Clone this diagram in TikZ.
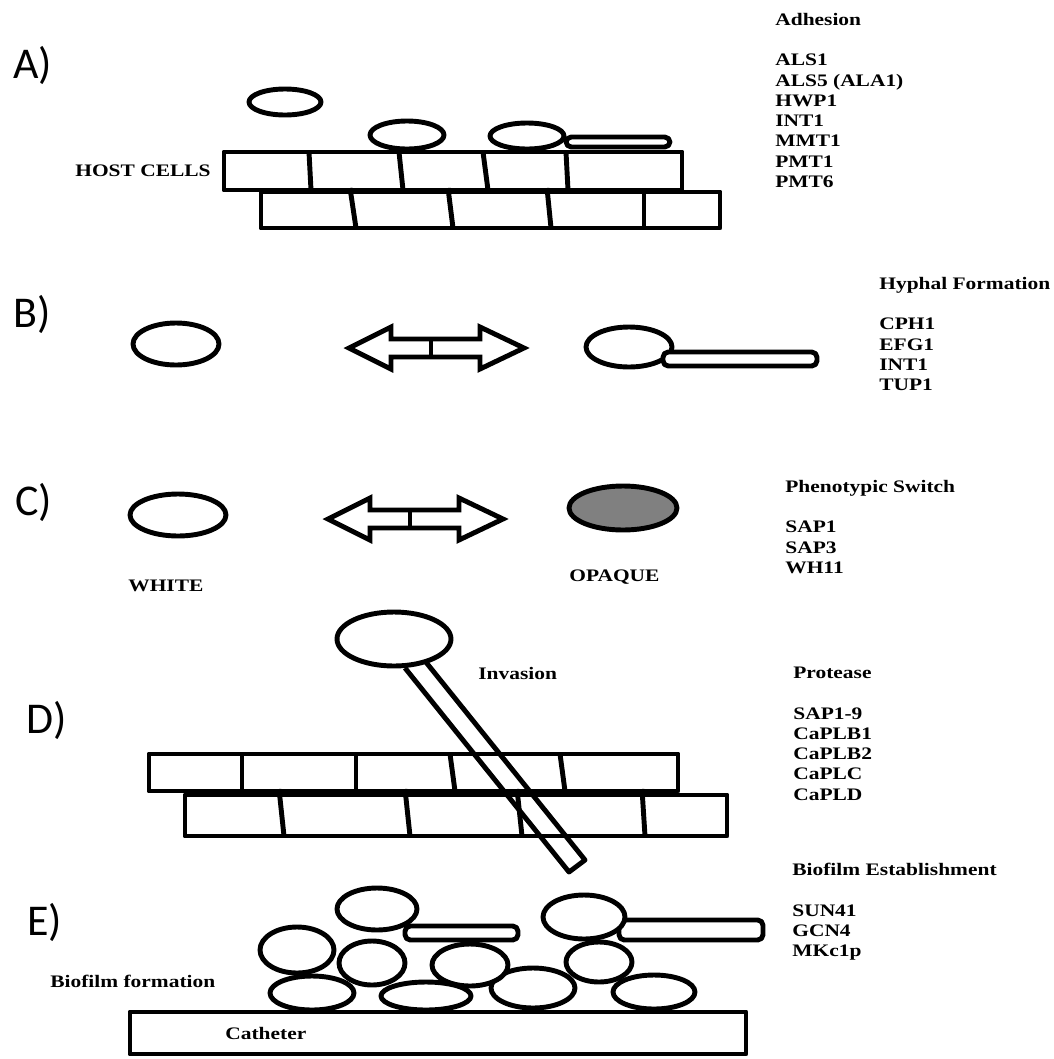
\documentclass[tikz,border=0pt]{standalone}
\usepackage{fontspec}
\newfontfamily\genefont[FakeStretch=1.22]{Liberation Serif}
\newfontfamily\panelfont{Carlito}
\definecolor{opaquegrey}{RGB}{128,128,128}
\tikzset{
  outline/.style={draw, line width=2.8pt, line join=round},
  cell/.style={outline, fill=white},
  panel/.style={font=\panelfont\fontsize{25}{30}\selectfont, inner sep=0pt, anchor=base west},
  tag/.style={font=\genefont\bfseries\fontsize{10}{11.5}\selectfont, inner sep=0pt, anchor=west},
  genes/.style={tag, align=left, anchor=north west},
}

\begin{document}
\begin{tikzpicture}[x=0.2mm, y=-0.2mm]
\useasboundingbox (0,0) rectangle (1054,1059);

% Panel letters
\node[panel] (labA) at (13,78) {A)};
\node[panel] (labB) at (13,327) {B)};
\node[panel] (labC) at (15,515) {C)};
\node[panel] (labD) at (26,733) {D)};
\node[panel] (labE) at (27,935) {E)};

% A) cells landing on the host layer
\draw[outline] (224,152) rectangle (682,190);
\draw[outline] (261,192) rectangle (720,228);
\foreach \a/\b in {309/311, 399/403, 483/488, 566/568}
  \draw[outline] (\a,152) -- (\b,190);
\foreach \a/\b in {350/356, 448/453, 547/551, 644/644}
  \draw[outline] (\a,188) -- (\b,228);
\draw[cell, rounded corners=3] (566,137) rectangle (670,147);
\draw[cell] (285,102) ellipse [x radius=36, y radius=13];
\draw[cell] (407,135) ellipse [x radius=37, y radius=14];
\draw[cell] (527,136) ellipse [x radius=37, y radius=13];
\node[tag] (host) at (75,171) {HOST CELLS};
\node[genes] (adhesion) at (775,13) {Adhesion\\[11.5pt]ALS1\\ALS5 (ALA1)\\HWP1\\INT1\\MMT1\\PMT1\\PMT6};

% double block arrows for B) and C)
\foreach \l/\m in {349/348, 328/519} {
  \draw[cell, line join=miter] (\l+82,\m-9) -- (\l+42,\m-9) -- (\l+42,\m-21) -- (\l,\m)
    -- (\l+42,\m+21) -- (\l+42,\m+9) -- (\l+131,\m+9) -- (\l+131,\m+21) -- (\l+175,\m)
    -- (\l+131,\m-21) -- (\l+131,\m-9) -- cycle;
  \draw[outline] (\l+82,\m-9) -- (\l+82,\m+9);
}

% B) yeast to hypha
\draw[cell] (176,344) ellipse [x radius=43, y radius=21];
\draw[cell] (629,347) ellipse [x radius=43, y radius=20];
\draw[cell, rounded corners=3] (663,352) rectangle (817,366);
\node[genes] (hyphal) at (879,277) {Hyphal Formation\\[11.5pt]CPH1\\EFG1\\INT1\\TUP1};

% C) white / opaque
\draw[cell] (178,515) ellipse [x radius=48, y radius=21];
\draw[outline, fill=opaquegrey] (623,508) ellipse [x radius=54, y radius=22];
\node[tag] (white) at (128,586) {WHITE};
\node[tag] (opaque) at (569,577) {OPAQUE};
\node[genes] (switch) at (785,480) {Phenotypic Switch\\[11.5pt]SAP1\\SAP3\\WH11};

% D) hypha going through the tissue
\draw[outline] (149,754) rectangle (678,791);
\draw[outline] (185,795) rectangle (727,836);
\foreach \a/\b in {242/242, 356/356, 450/455, 560/565}
  \draw[outline] (\a,754) -- (\b,791);
\foreach \a/\b in {279/284, 405/410, 517/522, 642/645}
  \draw[outline] (\a,789) -- (\b,836);
\draw[outline] (421,656) -- (585,860) -- (569,872) -- (405,668);
\draw[cell] (394,639) ellipse [x radius=57, y radius=27];
\node[tag] (invasion) at (478,673) {Invasion};
\node[genes] (protease) at (793,667) {Protease\\[11.5pt]SAP1-9\\CaPLB1\\CaPLB2\\CaPLC\\CaPLD};

% E) biofilm on the catheter
\draw[outline] (130,1012) rectangle (746,1054);
\foreach \cx/\cy/\rx/\ry in {312/993/42/17, 426/996/45/14, 533/988/42/20, 654/992/41/17,
                             297/950/37/23, 372/963/33/22, 470/965/38/21, 599/962/33/20}
  \draw[cell] (\cx,\cy) ellipse [x radius=\rx, y radius=\ry];
\draw[cell, rounded corners=3] (405,926) rectangle (518,940);
\draw[cell, rounded corners=3] (619,920) rectangle (763,940);
\draw[cell] (377,909) ellipse [x radius=40, y radius=21];
\draw[cell] (584,917) ellipse [x radius=41, y radius=22];
\node[tag] (catheter) at (225,1033) {Catheter};
\node[tag] (biofilm) at (50,981) {Biofilm formation};
\node[genes] (establish) at (792,863) {Biofilm Establishment\\[11.5pt]SUN41\\GCN4\\MKc1p};
\end{tikzpicture}
\end{document}
